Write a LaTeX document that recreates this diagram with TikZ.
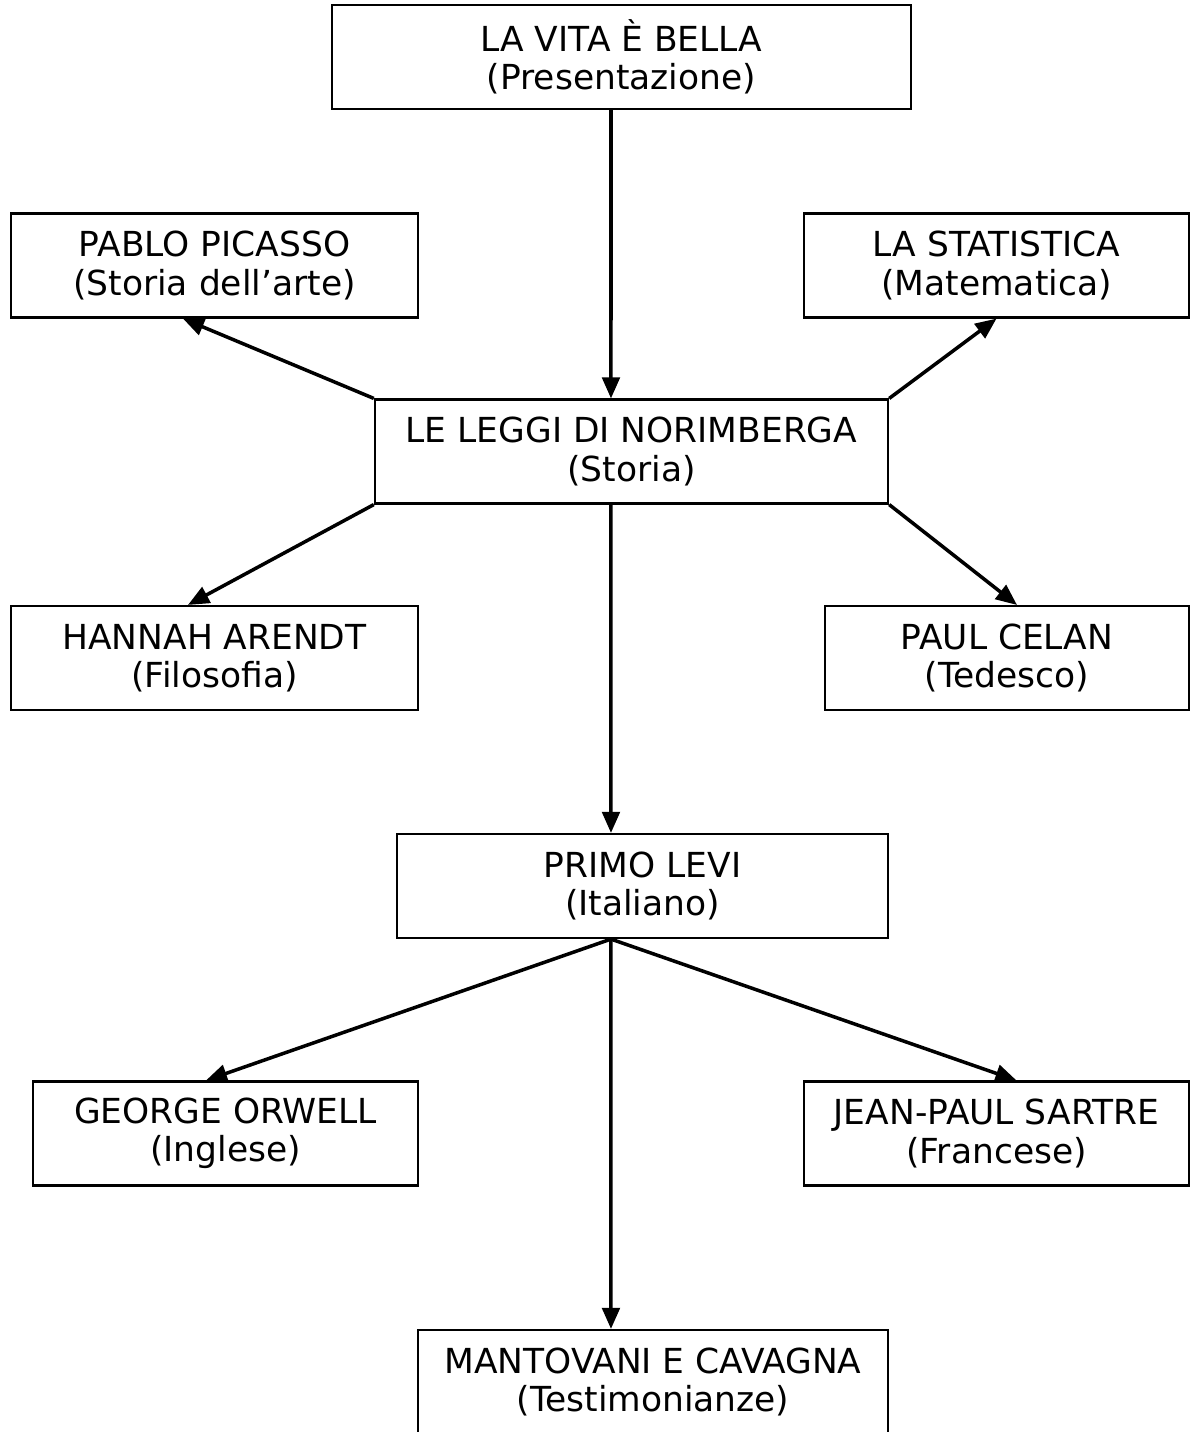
\documentclass[tikz,border=0pt]{standalone}
\usepackage{fontspec}
\setmainfont{DejaVu Sans}
\usetikzlibrary{arrows.meta, positioning}

\begin{document}
\begin{tikzpicture}[x=0.01cm, y=-0.01cm, font=\fontsize{9.8}{10.9}\selectfont,
		casella/.style={draw, line width=0.6pt, align=center, inner sep=0pt, minimum height=1.04cm},
		freccia/.style={-{Triangle[length=6pt, width=5pt]}, line width=1pt}]
				
				\useasboundingbox (0,0) rectangle (1191,1432);
				
				% Presentazione
				\node[casella, minimum width=5.79cm] (vita) at (621.5,57) {LA VITA È BELLA\\(Presentazione)};
				
				% Storia e collegamenti
				\node[casella, minimum width=4.07cm] (picasso) at (214.5,265.5) {PABLO PICASSO\\(Storia dell’arte)};
				\node[casella, minimum width=3.85cm] (statistica) at (996.5,265.5) {LA STATISTICA\\(Matematica)};
				\node[casella, minimum width=5.13cm] (leggi) at (631.5,451.5) {LE LEGGI DI NORIMBERGA\\(Storia)};
				\node[casella, minimum width=4.07cm] (arendt) at (214.5,658) {HANNAH ARENDT\\(Filosofia)};
				\node[casella, minimum width=3.64cm] (celan) at (1007,658) {PAUL CELAN\\(Tedesco)};
				
				% Italiano e collegamenti
				\node[casella, minimum width=4.91cm] (levi) at (642.5,886) {PRIMO LEVI\\(Italiano)};
				\node[casella, minimum width=3.85cm] (orwell) at (225.5,1133.5) {GEORGE ORWELL\\(Inglese)};
				\node[casella, minimum width=3.85cm] (sartre) at (996.5,1133.5) {JEAN-PAUL SARTRE\\(Francese)};
				\node[casella, minimum width=4.70cm] (mantovani) at (653,1382) {MANTOVANI E CAVAGNA\\(Testimonianze)};
				
				% Frecce
				\draw[freccia] ([xshift=-0.105cm]vita.south) -- ([xshift=-0.205cm]leggi.north);
				\draw[freccia] (leggi.north west) -- ([xshift=-0.315cm]picasso.south);
				\draw[freccia] (leggi.north east) -- (statistica.south);
				\draw[freccia] (leggi.south west) -- ([xshift=-0.265cm]arendt.north);
				\draw[freccia] (leggi.south east) -- ([xshift=0.1cm]celan.north);
				\draw[freccia] ([xshift=-0.205cm]leggi.south) -- ([xshift=-0.315cm]levi.north);
				\draw[freccia] ([xshift=-0.315cm]levi.south) -- ([xshift=-0.195cm]orwell.north);
				\draw[freccia] ([xshift=-0.315cm]levi.south) -- ([xshift=0.2cm]sartre.north);
				\draw[freccia] ([xshift=-0.315cm]levi.south) -- ([xshift=-0.42cm]mantovani.north);
				
			\end{tikzpicture}
\end{document}
